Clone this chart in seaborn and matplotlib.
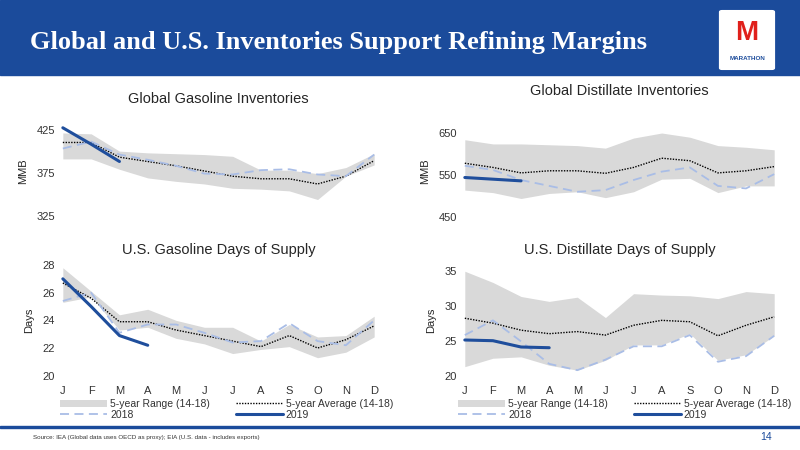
import numpy as np
import pandas as pd
import seaborn as sns
import matplotlib.pyplot as plt
from matplotlib.patches import Rectangle, FancyBboxPatch

months = ["J", "F", "M", "A", "M", "J", "J", "A", "S", "O", "N", "D"]

# Global gasoline inventories (MMB)
gg_hi = [421, 420, 400, 398, 397, 396, 394, 378, 378, 374, 381, 397]
gg_lo = [391, 391, 379, 369, 365, 362, 357, 356, 354, 344, 371, 384]
gg_avg = [410, 410, 393, 388, 383, 377, 371, 368, 368, 362, 371, 389]
gg_2018 = [403, 411, 396, 390, 383, 374, 373, 378, 379, 373, 371, 396]
gg_2019 = [427, 408, 388]

# Global distillate inventories (MMB)
gd_hi = [634, 624, 624, 622, 620, 614, 638, 650, 640, 620, 616, 610]
gd_lo = [514, 508, 494, 506, 510, 496, 510, 540, 542, 508, 524, 524]
gd_avg = [578, 568, 555, 560, 560, 554, 568, 590, 584, 555, 560, 570]
gd_2018 = [572, 562, 538, 524, 510, 514, 538, 558, 568, 524, 518, 552]
gd_2019 = [544, 540, 536]

# U.S. gasoline days of supply
ug_hi = [27.8, 26.1, 24.4, 24.8, 24.0, 23.5, 23.5, 22.5, 23.7, 22.8, 22.9, 24.3]
ug_lo = [25.3, 25.7, 23.3, 23.5, 22.7, 22.3, 21.6, 21.9, 22.1, 21.3, 21.7, 22.8]
ug_avg = [26.7, 25.6, 23.9, 23.9, 23.3, 22.9, 22.5, 22.1, 22.9, 22.0, 22.6, 23.6]
ug_2018 = [25.4, 26.0, 23.1, 23.7, 23.7, 23.1, 22.4, 22.5, 23.8, 22.5, 22.2, 24.0]
ug_2019 = [27.0, 25.0, 22.9, 22.2]

# U.S. distillate days of supply
ud_hi = [34.9, 33.3, 31.3, 30.6, 31.2, 28.3, 31.7, 31.5, 31.4, 31.0, 32.0, 31.7]
ud_lo = [21.3, 22.5, 22.7, 21.5, 20.8, 22.2, 24.4, 24.4, 26.0, 22.2, 23.0, 25.7]
ud_avg = [28.2, 27.5, 26.5, 26.0, 26.3, 25.8, 27.2, 27.9, 27.7, 25.7, 27.2, 28.4]
ud_2018 = [25.8, 27.9, 24.9, 21.7, 20.8, 22.3, 24.2, 24.2, 25.8, 22.0, 22.8, 25.7]
ud_2019 = [25.1, 25.0, 24.1, 24.0]

NAVY = "#1f4e9c"
LIGHT = "#a9bde6"
GREY = "#d9d9d9"
W, H = 800, 450

sns.set_theme(style="white")
plt.rcParams["font.family"] = ["Liberation Sans", "DejaVu Sans"]

fig = plt.figure(figsize=(8, 4.5), dpi=100)


def px_axes(left, top, right, bottom):
    return fig.add_axes([left / W, 1 - bottom / H, (right - left) / W, (bottom - top) / H])


def draw(ax, hi, lo, avg, y18, y19, title, ylabel, ylim, yticks, show_x, title_pad, leg_x=None):
    x = np.arange(12)
    ax.fill_between(x, lo, hi, color=GREY, lw=0, label="5-year Range (14-18)")
    sns.lineplot(x=x, y=avg, ax=ax, color="black", lw=1, linestyle=(0, (1, 1)),
                 label="5-year Average (14-18)")
    sns.lineplot(x=x, y=y18, ax=ax, color=LIGHT, lw=1.3, linestyle=(0, (5, 3)), label="2018")
    sns.lineplot(x=np.arange(len(y19)), y=y19, ax=ax, color=NAVY, lw=2.2, label="2019")
    ax.set_xlim(-0.1, 11.1)
    ax.set_ylim(*ylim)
    ax.set_yticks(yticks)
    ax.set_yticklabels([str(t) for t in yticks], fontsize=8, color="#333333")
    ax.set_xticks(x)
    if show_x:
        ax.set_xticklabels(months, fontsize=8, color="#333333")
        ax.tick_params(axis="x", pad=4)
        handles, labels = ax.get_legend_handles_labels()
        order = [0, 2, 1, 3]
        ax.legend([handles[i] for i in order], [labels[i] for i in order],
                  ncol=2, loc="upper left", bbox_to_anchor=(leg_x / W, 1 - 399 / H),
                  bbox_transform=fig.transFigure, frameon=False,
                  fontsize=7.5, handlelength=4.5, columnspacing=2.5, labelspacing=0.1,
                  borderaxespad=0, borderpad=0, handletextpad=0.3, labelcolor="#333333")
    else:
        ax.set_xticklabels([])
        ax.get_legend().remove()
    ax.tick_params(length=0)
    for s in ax.spines.values():
        s.set_visible(False)
    ax.set_title(title, fontsize=10.5, pad=title_pad)
    ax.set_ylabel(ylabel, fontsize=8, labelpad=6)


ax1 = px_axes(60, 120, 377, 222)
draw(ax1, gg_hi, gg_lo, gg_avg, gg_2018, gg_2019, "Global Gasoline Inventories", "MMB",
     (318, 436), [325, 375, 425], False, 12)
ax2 = px_axes(462, 120, 777, 222)
draw(ax2, gd_hi, gd_lo, gd_avg, gd_2018, gd_2019, "Global Distillate Inventories", "MMB",
     (438, 681), [450, 550, 650], False, 18)
ax3 = px_axes(60, 260, 377, 380)
draw(ax3, ug_hi, ug_lo, ug_avg, ug_2018, ug_2019, "U.S. Gasoline Days of Supply", "Days",
     (19.69, 28.36), [20, 22, 24, 26, 28], True, 4, leg_x=60)
ax4 = px_axes(462, 260, 777, 380)
draw(ax4, ud_hi, ud_lo, ud_avg, ud_2018, ud_2019, "U.S. Distillate Days of Supply", "Days",
     (19.4, 36.5), [20, 25, 30, 35], True, 4, leg_x=458)

# header band
fig.patches.append(Rectangle((0, 1 - 75 / H), 1, 75 / H, transform=fig.transFigure,
                             color="#1b4b9b", zorder=0))
fig.text(30 / W, 1 - 42 / H, "Global and U.S. Inventories Support Refining Margins",
         fontsize=19, fontweight="bold", color="white", family="Liberation Serif", va="center")
fig.patches.append(FancyBboxPatch((722 / W, 1 - 68 / H), 50 / W, 56 / H,
                                  boxstyle="round,pad=0.003", transform=fig.transFigure,
                                  color="white", zorder=1))
fig.text(747 / W, 1 - 33 / H, "M", fontsize=20, fontweight="bold", color="#e0201b",
         ha="center", va="center", zorder=2)
fig.text(747 / W, 1 - 58 / H, "MARATHON", fontsize=4.5, fontweight="bold", color="#1b4b9b",
         ha="center", va="center", zorder=2)

# footer
fig.patches.append(Rectangle((0, 1 - 428 / H), 1, 2.5 / H, transform=fig.transFigure,
                             color="#1b4b9b", zorder=0))
fig.text(33 / W, 1 - 437 / H,
         "Source: IEA (Global data uses OECD as proxy); EIA (U.S. data - includes exports)",
         fontsize=4.5, color="#333333", va="center")
fig.text(772 / W, 1 - 437 / H, "14", fontsize=7.5, color="#1b4b9b", va="center", ha="right")

fig.savefig("out.png", dpi=100)
